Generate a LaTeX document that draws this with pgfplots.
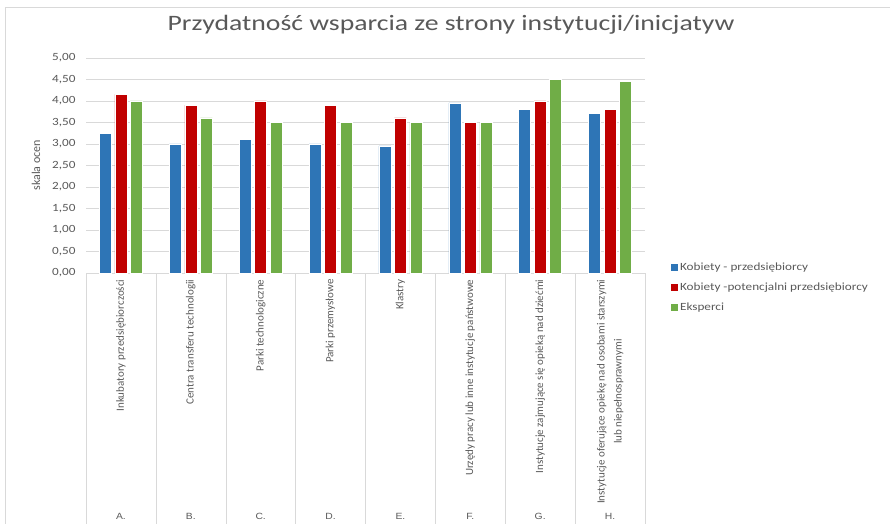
\documentclass[border=0pt]{standalone}
\usepackage{fontspec}
\setmainfont{Carlito}
\newfontfamily\wfont{Carlito}[FakeStretch=1.2]
\newfontfamily\tfont{Carlito}[FakeStretch=1.26]
\newfontfamily\lfont{Liberation Sans}[FakeStretch=1.15]
\usepackage{pgfplots}
\pgfplotsset{compat=1.18}
\definecolor{cblue}{HTML}{2E75B6}
\definecolor{cred}{HTML}{C00000}
\definecolor{cgreen}{HTML}{70AD47}
\definecolor{txt}{HTML}{595959}
\definecolor{gridc}{HTML}{D9D9D9}

\begin{document}
\begin{tikzpicture}
\useasboundingbox (0,0) rectangle (890pt,523pt);
\draw[gridc] (5pt,-2pt) -- (5pt,516pt) -- (892pt,516pt);
\begin{axis}[
  at={(86pt,250pt)}, anchor=south west,
  scale only axis, width=559pt, height=215.3pt,
  xmin=0, xmax=8, ymin=0, ymax=5,
  ybar=3.5pt, bar width=12pt,
  clip=false,
  axis lines*=left,
  x axis line style={draw=gridc,-},
  y axis line style={draw=none},
  major tick length=0pt,
  ymajorgrids, grid style={gridc},
  ytick={0,0.5,...,5},
  yticklabel style={font=\wfont\fontsize{11}{13}\selectfont, text=txt},
  yticklabel shift=7pt,
  /pgf/number format/.cd, fixed, fixed zerofill, precision=2, use comma, assume math mode=true,
  /pgfplots/.cd,
  xtick={0.5,1.5,...,7.5},
  xticklabels={{Inkubatory przedsiębiorczości},{Centra transferu technologii},{Parki technologiczne},{Parki przemysłowe},{Klastry},{Urzędy pracy lub inne instytucje państwowe},{Instytucje zajmujące się opieką nad dziećmi},{Instytucje oferujące opiekę nad osobami starszymi\\lub niepełnosprawnymi}},
  xticklabel style={rotate=90, anchor=east, align=center, font=\fontsize{11}{17}\selectfont, text=txt},
  xticklabel shift=3pt,
  title={Przydatność wsparcia ze strony instytucji/inicjatyw},
  title style={at={(axis description cs:0.653,1.0975)}, anchor=base, font=\tfont\fontsize{22}{26}\selectfont, text=txt},
  ylabel={skala ocen},
  ylabel style={at={(axis description cs:-0.0894,0.5)}, anchor=center, font=\fontsize{12}{14}\selectfont, text=txt},
  legend style={at={(axis description cs:1.04,0.065)}, anchor=north west, draw=none, fill=none,
    font=\wfont\fontsize{11}{13}\selectfont, text=txt, row sep=6.5pt},
  legend cell align=left,
  legend image code/.code={\path[#1, draw=none] (0pt,-3.5pt) rectangle (7.5pt,3.5pt);},
]
\addplot[fill=cblue, draw=white, line width=0.5pt] coordinates {(0.5,3.25) (1.5,3.0) (2.5,3.1) (3.5,3.0) (4.5,2.95) (5.5,3.95) (6.5,3.8) (7.5,3.7)};
\addplot[fill=cred, draw=white, line width=0.5pt] coordinates {(0.5,4.15) (1.5,3.9) (2.5,4.0) (3.5,3.9) (4.5,3.6) (5.5,3.5) (6.5,4.0) (7.5,3.8)};
\addplot[fill=cgreen, draw=white, line width=0.5pt] coordinates {(0.5,4.0) (1.5,3.6) (2.5,3.5) (3.5,3.5) (4.5,3.5) (5.5,3.5) (6.5,4.5) (7.5,4.45)};
\legend{Kobiety - przedsiębiorcy, Kobiety -potencjalni przedsiębiorcy, Eksperci}
\pgfplotsinvokeforeach{0,...,8}{\draw[gridc] (axis cs:#1,0) -- ++(0pt,-260pt);}
\node[font=\lfont\fontsize{9}{10}\selectfont, text=txt, yshift=-243pt] at (axis cs:0.5,0) {A.};
\node[font=\lfont\fontsize{9}{10}\selectfont, text=txt, yshift=-243pt] at (axis cs:1.5,0) {B.};
\node[font=\lfont\fontsize{9}{10}\selectfont, text=txt, yshift=-243pt] at (axis cs:2.5,0) {C.};
\node[font=\lfont\fontsize{9}{10}\selectfont, text=txt, yshift=-243pt] at (axis cs:3.5,0) {D.};
\node[font=\lfont\fontsize{9}{10}\selectfont, text=txt, yshift=-243pt] at (axis cs:4.5,0) {E.};
\node[font=\lfont\fontsize{9}{10}\selectfont, text=txt, yshift=-243pt] at (axis cs:5.5,0) {F.};
\node[font=\lfont\fontsize{9}{10}\selectfont, text=txt, yshift=-243pt] at (axis cs:6.5,0) {G.};
\node[font=\lfont\fontsize{9}{10}\selectfont, text=txt, yshift=-243pt] at (axis cs:7.5,0) {H.};
\end{axis}
\end{tikzpicture}
\end{document}
